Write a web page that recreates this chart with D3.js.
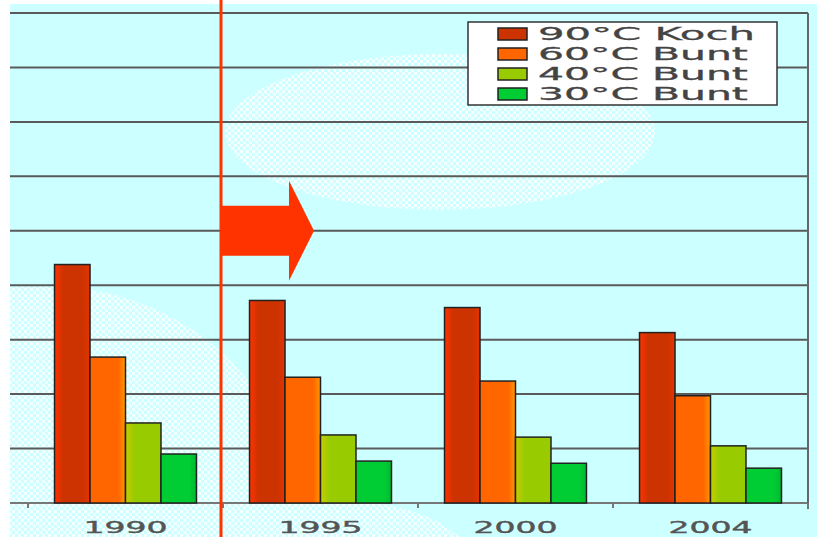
<!DOCTYPE html>
<html><head><meta charset="utf-8">
<script src="https://cdn.jsdelivr.net/npm/d3@7"></script>
<style>html,body{margin:0;padding:0;background:#fff;}svg{display:block;}</style>
</head><body>
<svg id="c" width="822" height="537"></svg>
<script>
const years = ["1990", "1995", "2000", "2004"];
const seriesNames = ["90°C Koch", "60°C Bunt", "40°C Bunt", "30°C Bunt"];
const koch90 = [4.38, 3.72, 3.59, 3.13];
const bunt60 = [2.68, 2.31, 2.24, 1.97];
const bunt40 = [1.47, 1.25, 1.21, 1.05];
const bunt30 = [0.90, 0.77, 0.73, 0.64];
const yTicks = [0, 1, 2, 3, 4, 5, 6, 7, 8, 9];
const seriesValues = [koch90, bunt60, bunt40, bunt30];
const seriesColors = [
  ["#ff3300", "#cc3300", "#cc3300", "#e63300"],
  ["#ff6600", "#ff6600", "#ff6600", "#ff9900"],
  ["#c8cc00", "#99cc00", "#99cc00", "#99cc00"],
  ["#00cc33", "#00cc33", "#00cc33", "#00b833"]
];

const svg = d3.select("#c");
const defs = svg.append("defs");

const pat = defs.append("pattern").attr("id", "chk").attr("patternUnits", "userSpaceOnUse")
  .attr("width", 6).attr("height", 6);
pat.append("rect").attr("width", 3).attr("height", 3).attr("fill", "#fff");
pat.append("rect").attr("x", 3).attr("y", 3).attr("width", 3).attr("height", 3).attr("fill", "#fff");

seriesColors.forEach((c, i) => {
  const g = defs.append("linearGradient").attr("id", "g" + i).attr("x1", 0).attr("x2", 1).attr("y1", 0).attr("y2", 0);
  [0, 0.25, 0.8, 1].forEach((o, k) => g.append("stop").attr("offset", o).attr("stop-color", c[k]));
});

const x0 = d3.scaleBand().domain(years).range([28, 808]).paddingInner(0.272).paddingOuter(0.136);
const x1 = d3.scaleBand().domain(d3.range(seriesNames.length)).range([0, x0.bandwidth()]);
const y = d3.scaleLinear().domain([0, 9]).range([503, 13]);

// stretch text horizontally to a target width
function stretch(sel, targetW, anchorMid) {
  sel.each(function (d, i) {
    const t = d3.select(this);
    const w = this.getComputedTextLength();
    const tw = typeof targetW === "function" ? targetW(d, i) : targetW;
    const sx = tw / w;
    const x = +t.attr("x");
    t.attr("transform", `translate(${x},0) scale(${sx},1) translate(${-x},0)`);
  });
}

// background
svg.append("rect").attr("x", 10).attr("y", 4).attr("width", 807).attr("height", 533).attr("fill", "#ccffff");
const blobs = svg.append("g").attr("opacity", 0.8);
blobs.append("ellipse").attr("cx", 440).attr("cy", 132).attr("rx", 215).attr("ry", 78).attr("fill", "url(#chk)");
blobs.append("ellipse").attr("cx", 40).attr("cy", 500).attr("rx", 250).attr("ry", 215).attr("fill", "url(#chk)");
blobs.append("ellipse").attr("cx", 330).attr("cy", 560).attr("rx", 140).attr("ry", 60).attr("fill", "url(#chk)");

// gridlines
svg.append("g").selectAll("line").data(yTicks.slice(1)).join("line")
  .attr("x1", 10).attr("x2", 808)
  .attr("y1", d => y(d)).attr("y2", d => y(d))
  .attr("stroke", "#5a5a5a").attr("stroke-width", 2);

// baseline and right border
svg.append("line").attr("x1", 10).attr("x2", 808).attr("y1", y(0)).attr("y2", y(0))
  .attr("stroke", "#777").attr("stroke-width", 2);
svg.append("line").attr("x1", 808).attr("x2", 808).attr("y1", y(9)).attr("y2", y(0) + 6)
  .attr("stroke", "#666").attr("stroke-width", 2);
const tickPos = [x0.range()[0]].concat(years.map(d => x0(d) + x0.bandwidth() + x0.step() * x0.paddingInner() / 2));
svg.append("g").selectAll("line").data(tickPos).join("line")
  .attr("x1", d => d).attr("x2", d => d).attr("y1", y(0)).attr("y2", y(0) + 5)
  .attr("stroke", "#777").attr("stroke-width", 2);

// bars
const groups = svg.append("g").selectAll("g").data(years).join("g")
  .attr("transform", d => `translate(${x0(d)},0)`);
groups.selectAll("rect").data((d, i) => seriesValues.map((s, k) => ({k, v: s[i]}))).join("rect")
  .attr("x", d => x1(d.k)).attr("width", x1.bandwidth())
  .attr("y", d => y(d.v)).attr("height", d => y(0) - y(d.v))
  .attr("fill", d => `url(#g${d.k})`)
  .attr("stroke", "#222").attr("stroke-width", 1.5);

// x labels
svg.append("g").selectAll("text").data(years).join("text")
  .attr("x", d => x0(d) + x0.bandwidth() / 2).attr("y", 533)
  .attr("text-anchor", "middle")
  .attr("font-family", "DejaVu Sans, Verdana, sans-serif").attr("font-size", 16)
  .attr("fill", "#555").attr("stroke", "#555").attr("stroke-width", 0.4)
  .text(d => d)
  .call(stretch, 84);

// legend
const lg = svg.append("g");
lg.append("rect").attr("x", 468).attr("y", 22).attr("width", 309).attr("height", 83)
  .attr("fill", "#fff").attr("stroke", "#333").attr("stroke-width", 1.5);
const items = lg.selectAll("g").data(seriesNames).join("g")
  .attr("transform", (d, i) => `translate(0,${i * 20})`);
items.append("rect").attr("x", 498).attr("y", 28).attr("width", 29).attr("height", 12)
  .attr("fill", (d, i) => seriesColors[i][1]).attr("stroke", "#222").attr("stroke-width", 1.5);
items.append("text").attr("x", 538).attr("y", 40)
  .attr("font-family", "DejaVu Sans, Verdana, sans-serif").attr("font-size", 18)
  .attr("fill", "#444").attr("stroke", "#444").attr("stroke-width", 0.3)
  .text(d => d)
  .call(stretch, (d, i) => i === 0 ? 217 : 210);

// annotation: red divider line and arrow
const divX = x0("1995") - x0.step() * x0.paddingInner() / 2 - 2;
svg.append("line").attr("x1", divX).attr("x2", divX).attr("y1", 0).attr("y2", 537)
  .attr("stroke", "#ff3300").attr("stroke-width", 3);
const ay = y(5);
const arrow = [[divX, ay - 25], [divX + 68, ay - 25], [divX + 68, ay - 50], [divX + 93, ay],
  [divX + 68, ay + 50], [divX + 68, ay + 25], [divX, ay + 25]];
svg.append("polygon").attr("points", arrow.map(p => p.join(",")).join(" ")).attr("fill", "#ff3300");
</script>
</body></html>
